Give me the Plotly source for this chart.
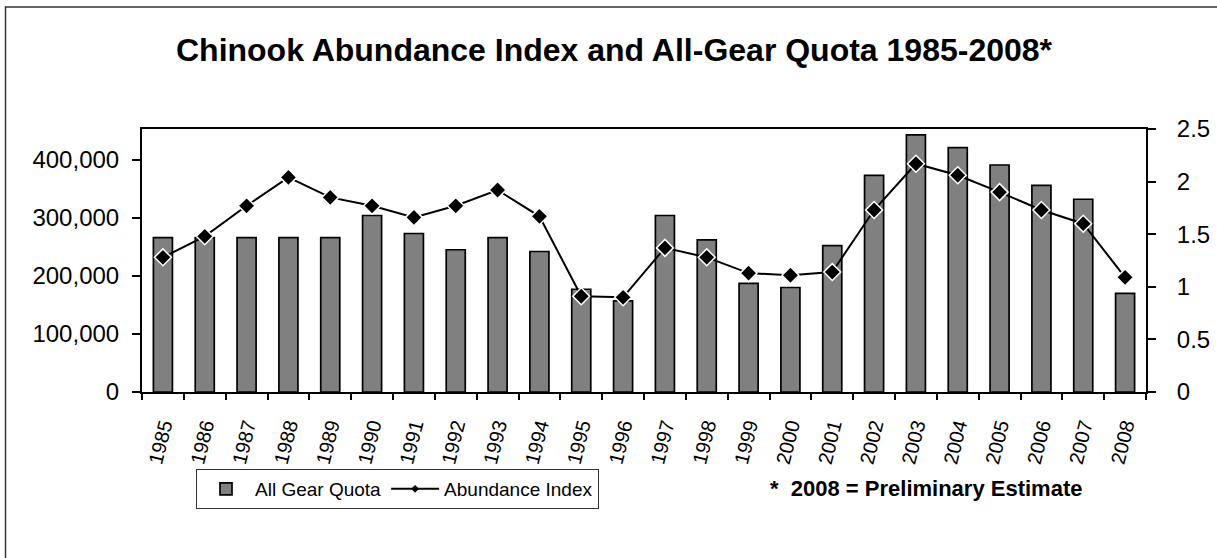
import plotly.graph_objects as go

years = [str(y) for y in range(1985, 2009)]
quota = [266000, 266000, 266000, 266000, 266000, 304000, 273000, 245000, 266000, 242000,
         177000, 157000, 304000, 262000, 187000, 180000, 252000, 373000, 443000, 421000,
         391000, 356000, 332000, 170000]
abundance = [1.28, 1.48, 1.77, 2.04, 1.85, 1.77, 1.66, 1.77, 1.92, 1.67,
             0.91, 0.90, 1.37, 1.28, 1.13, 1.11, 1.14, 1.73, 2.17, 2.06,
             1.90, 1.73, 1.60, 1.09]

title_text = "Chinook Abundance Index and All-Gear Quota 1985-2008*"
footnote = "*  2008 = Preliminary Estimate"

W, H = 1217, 558
L, R, T, B = 142, 1146, 129, 392

FONT = "Liberation Sans, Arial, sans-serif"

fig = go.Figure()
fig.add_trace(go.Bar(
    x=years, y=quota, name="All Gear Quota",
    marker=dict(color="#808080", line=dict(color="black", width=1.7)),
    yaxis="y", showlegend=True,
))
fig.add_trace(go.Scatter(
    x=years, y=abundance, name="Abundance Index", yaxis="y2",
    mode="lines+markers",
    line=dict(color="black", width=2),
    marker=dict(symbol="diamond", size=13, color="black", line=dict(color="white", width=1.5)),
    showlegend=False,
))
# legend-only entry with small marker, like the original legend key
fig.add_trace(go.Scatter(
    x=[years[0]], y=[None], name="Abundance Index", yaxis="y2",
    mode="lines+markers",
    line=dict(color="black", width=2),
    marker=dict(symbol="diamond", size=6, color="black"),
    showlegend=True,
))

fig.update_layout(
    width=W, height=H,
    margin=dict(l=L, r=W - R, t=T, b=H - B, pad=0, autoexpand=False),
    paper_bgcolor="white", plot_bgcolor="white",
    font=dict(family=FONT, size=22, color="black"),
    title=dict(text="<b>" + title_text + "</b>", font=dict(size=32, family=FONT, color="black"),
               x=614 / W, xanchor="center", xref="container",
               y=1 - 50 / H, yanchor="middle", yref="container"),
    bargap=0.545,
    xaxis=dict(
        type="category", range=[-0.5, len(years) - 0.5],
        showline=True, linecolor="black", linewidth=2, mirror=True,
        ticks="outside", ticklen=6, tickwidth=1.5, tickcolor="black",
        tickson="boundaries", tickangle=-76, showgrid=False,
        tickfont=dict(size=20), ticklabelstandoff=12,
    ),
    yaxis=dict(
        range=[0, 453000], tick0=0, dtick=100000, tickformat=",",
        showline=True, linecolor="black", linewidth=2,
        ticks="outside", ticklen=8, tickwidth=1.5, tickcolor="black",
        showgrid=False, zeroline=False, tickfont=dict(size=24), ticklabelstandoff=8,
    ),
    yaxis2=dict(
        range=[0, 2.5], tick0=0, dtick=0.5, overlaying="y", side="right",
        showline=True, linecolor="black", linewidth=2,
        ticks="outside", ticklen=8, tickwidth=1.5, tickcolor="black",
        showgrid=False, zeroline=False, tickfont=dict(size=24), ticklabelstandoff=16,
    ),
    legend=dict(
        orientation="h", xref="container", yref="container",
        x=196 / W, xanchor="left", y=1 - 469 / H, yanchor="top",
        bordercolor="#333333", borderwidth=1, bgcolor="white",
        font=dict(size=19, family=FONT), itemwidth=48,
        traceorder="normal",
    ),
    annotations=[dict(
        text="<b>" + footnote + "</b>", xref="paper", yref="paper",
        x=(768 - L) / (R - L), xanchor="left",
        y=(B - 488) / (B - T), yanchor="middle",
        showarrow=False, font=dict(size=22, family=FONT, color="black"),
    )],
    shapes=[dict(
        type="rect", xref="paper", yref="paper",
        x0=(5.5 - L) / (R - L), x1=(1230 - L) / (R - L),
        y0=(B - 570) / (B - T), y1=(B - 7) / (B - T),
        line=dict(color="#333333", width=1.5), fillcolor="rgba(0,0,0,0)", layer="below",
    )],
)

fig.write_html("out.html", config={"displayModeBar": False},
               post_script="document.body.style.margin='0';")
